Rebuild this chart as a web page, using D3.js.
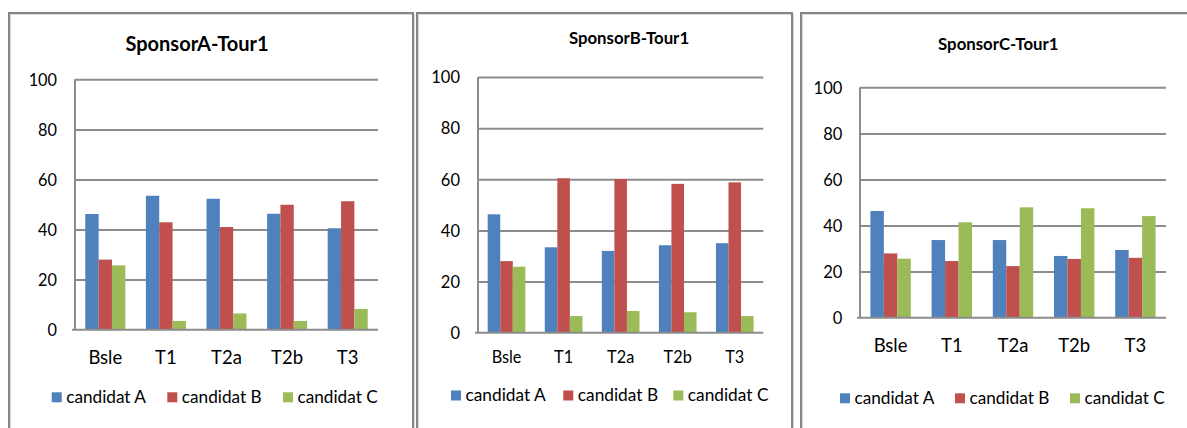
<!DOCTYPE html>
<html><head><meta charset="utf-8">
<script src="https://cdn.jsdelivr.net/npm/d3@7"></script>
<style>
html,body{margin:0;padding:0;background:#fff;}
svg{display:block;font-family:Lato,"Open Sans",sans-serif;}
</style></head>
<body>
<svg id="c" width="1187" height="428"></svg>
<script>
const categories = ["Bsle","T1","T2a","T2b","T3"];
const seriesNames = ["candidat A","candidat B","candidat C"];
const titles = ["SponsorA-Tour1","SponsorB-Tour1","SponsorC-Tour1"];
const yTicks = [0,20,40,60,80,100];
// values per panel: [candidat A, candidat B, candidat C] for each category
const sponsorA_candA = [46.2,53.5,52.3,46.3,40.5];
const sponsorA_candB = [28.0,42.9,41.0,49.9,51.3];
const sponsorA_candC = [25.7,3.5,6.5,3.5,8.3];
const sponsorB_candA = [46.3,33.4,32.0,34.2,35.0];
const sponsorB_candB = [28.0,60.4,60.1,58.2,58.8];
const sponsorB_candC = [25.8,6.5,8.5,8.0,6.5];
const sponsorC_candA = [46.3,33.7,33.7,26.8,29.4];
const sponsorC_candB = [27.9,24.6,22.4,25.5,26.0];
const sponsorC_candC = [25.6,41.4,47.9,47.5,44.1];

const colors = ["#4F81BD","#C0504D","#9BBB59"];

const panels = [
  {data:[sponsorA_candA,sponsorA_candB,sponsorA_candC], frame:[8,12,412], plot:{l:75,r:378,t:79.3,b:329.7},
   title:{x:197,y:51,size:20}, tickSize:16.3, tickX:57, xlab:{y:364,size:18.5}, leg:{x:[51.7,167.3,283],y:392.3,size:17.2}},
  {data:[sponsorB_candA,sponsorB_candB,sponsorB_candC], frame:[416,12,791], plot:{l:478,r:763.3,t:77,b:332.7},
   title:{x:629,y:44,size:16.8}, tickSize:16.5, tickX:460, xlab:{y:363,size:16.3}, leg:{x:[451,563.3,673.3],y:390.5,size:17.3}},
  {data:[sponsorC_candA,sponsorC_candB,sponsorC_candC], frame:[800,12,1200], plot:{l:860,r:1166,t:87.3,b:317.7},
   title:{x:998.3,y:50,size:16.8}, tickSize:16.5, tickX:842.3, xlab:{y:352,size:18.5}, leg:{x:[840,955,1070],y:393.3,size:17.2}}
];

const svg = d3.select("#c");

panels.forEach((p,pi)=>{
  const g = svg.append("g");
  const [fx,fy,fr] = p.frame;
  g.append("path").attr("d",`M${fx+1},430 V${fy+1} H${fr+1} V430`)
    .attr("fill","none").attr("stroke","#868686").attr("stroke-width",2);
  g.append("path").attr("d",`M${fx+2.5},430 V${fy+2.5}`)
    .attr("fill","none").attr("stroke","#d9d9d9").attr("stroke-width",1);
  g.append("path").attr("d",`M${fx+2.5},${fy+2.5} H${fr}`)
    .attr("fill","none").attr("stroke","#d9d9d9").attr("stroke-width",1);
  g.append("path").attr("d",`M${fr+2.5},${fy+2} V430`)
    .attr("fill","none").attr("stroke","#d9d9d9").attr("stroke-width",1);

  const P = p.plot;
  const y = d3.scaleLinear().domain([0,100]).range([P.b,P.t]);
  const x0 = d3.scaleBand().domain(categories).range([P.l,P.r]).paddingInner(0.34).paddingOuter(0.17);
  const x1 = d3.scaleBand().domain(seriesNames).range([0,x0.bandwidth()]);

  g.append("g").attr("transform",`translate(${P.l},0)`)
    .call(d3.axisLeft(y).tickValues(yTicks.filter(v=>v>0)).tickSize(-(P.r-P.l)).tickFormat(""))
    .call(s=>s.select(".domain").remove())
    .call(s=>s.selectAll("line").attr("stroke","#8c8c8c").attr("stroke-width",2));

  const groups = g.append("g").selectAll("g").data(categories).join("g")
    .attr("transform",d=>`translate(${x0(d)},0)`);
  groups.selectAll("rect").data((c,ci)=>seriesNames.map((s,si)=>({s,si,v:p.data[si][ci]})))
    .join("rect")
    .attr("x",d=>x1(d.s)).attr("width",x1.bandwidth())
    .attr("y",d=>y(d.v)).attr("height",d=>y(0)-y(d.v))
    .attr("fill",d=>colors[d.si]);

  g.append("line").attr("x1",P.l).attr("x2",P.l).attr("y1",P.t).attr("y2",P.b)
    .attr("stroke","#8c8c8c").attr("stroke-width",2);
  g.append("line").attr("x1",P.l-3).attr("x2",P.r).attr("y1",P.b).attr("y2",P.b)
    .attr("stroke","#8c8c8c").attr("stroke-width",2);

  const ya = g.append("g").attr("transform",`translate(${p.tickX},0)`)
    .call(d3.axisLeft(y).tickValues(yTicks).tickSize(0).tickPadding(0).tickFormat(d3.format("d")));
  ya.select(".domain").remove();
  ya.selectAll("text").attr("font-size",p.tickSize).attr("fill","#000")
    .attr("font-family","Lato,sans-serif").attr("x",0).attr("dy","0.35em");

  const xa = g.append("g").attr("transform",`translate(0,${p.xlab.y})`)
    .call(d3.axisBottom(x0).tickSize(0).tickPadding(0));
  xa.select(".domain").remove();
  xa.selectAll("text").attr("font-size",p.xlab.size).attr("fill","#000")
    .attr("font-family","Lato,sans-serif").attr("y",0).attr("dy",0);

  g.append("text").attr("x",p.title.x).attr("y",p.title.y).attr("text-anchor","middle")
    .attr("font-weight","bold").attr("font-size",p.title.size).text(titles[pi]);

  seriesNames.forEach((s,si)=>{
    g.append("rect").attr("x",p.leg.x[si]).attr("y",p.leg.y).attr("width",10).attr("height",10).attr("fill",colors[si]);
    g.append("text").attr("x",p.leg.x[si]+14.5).attr("y",p.leg.y+10.3)
      .attr("font-size",p.leg.size).text(s);
  });
});
</script>
</body></html>
